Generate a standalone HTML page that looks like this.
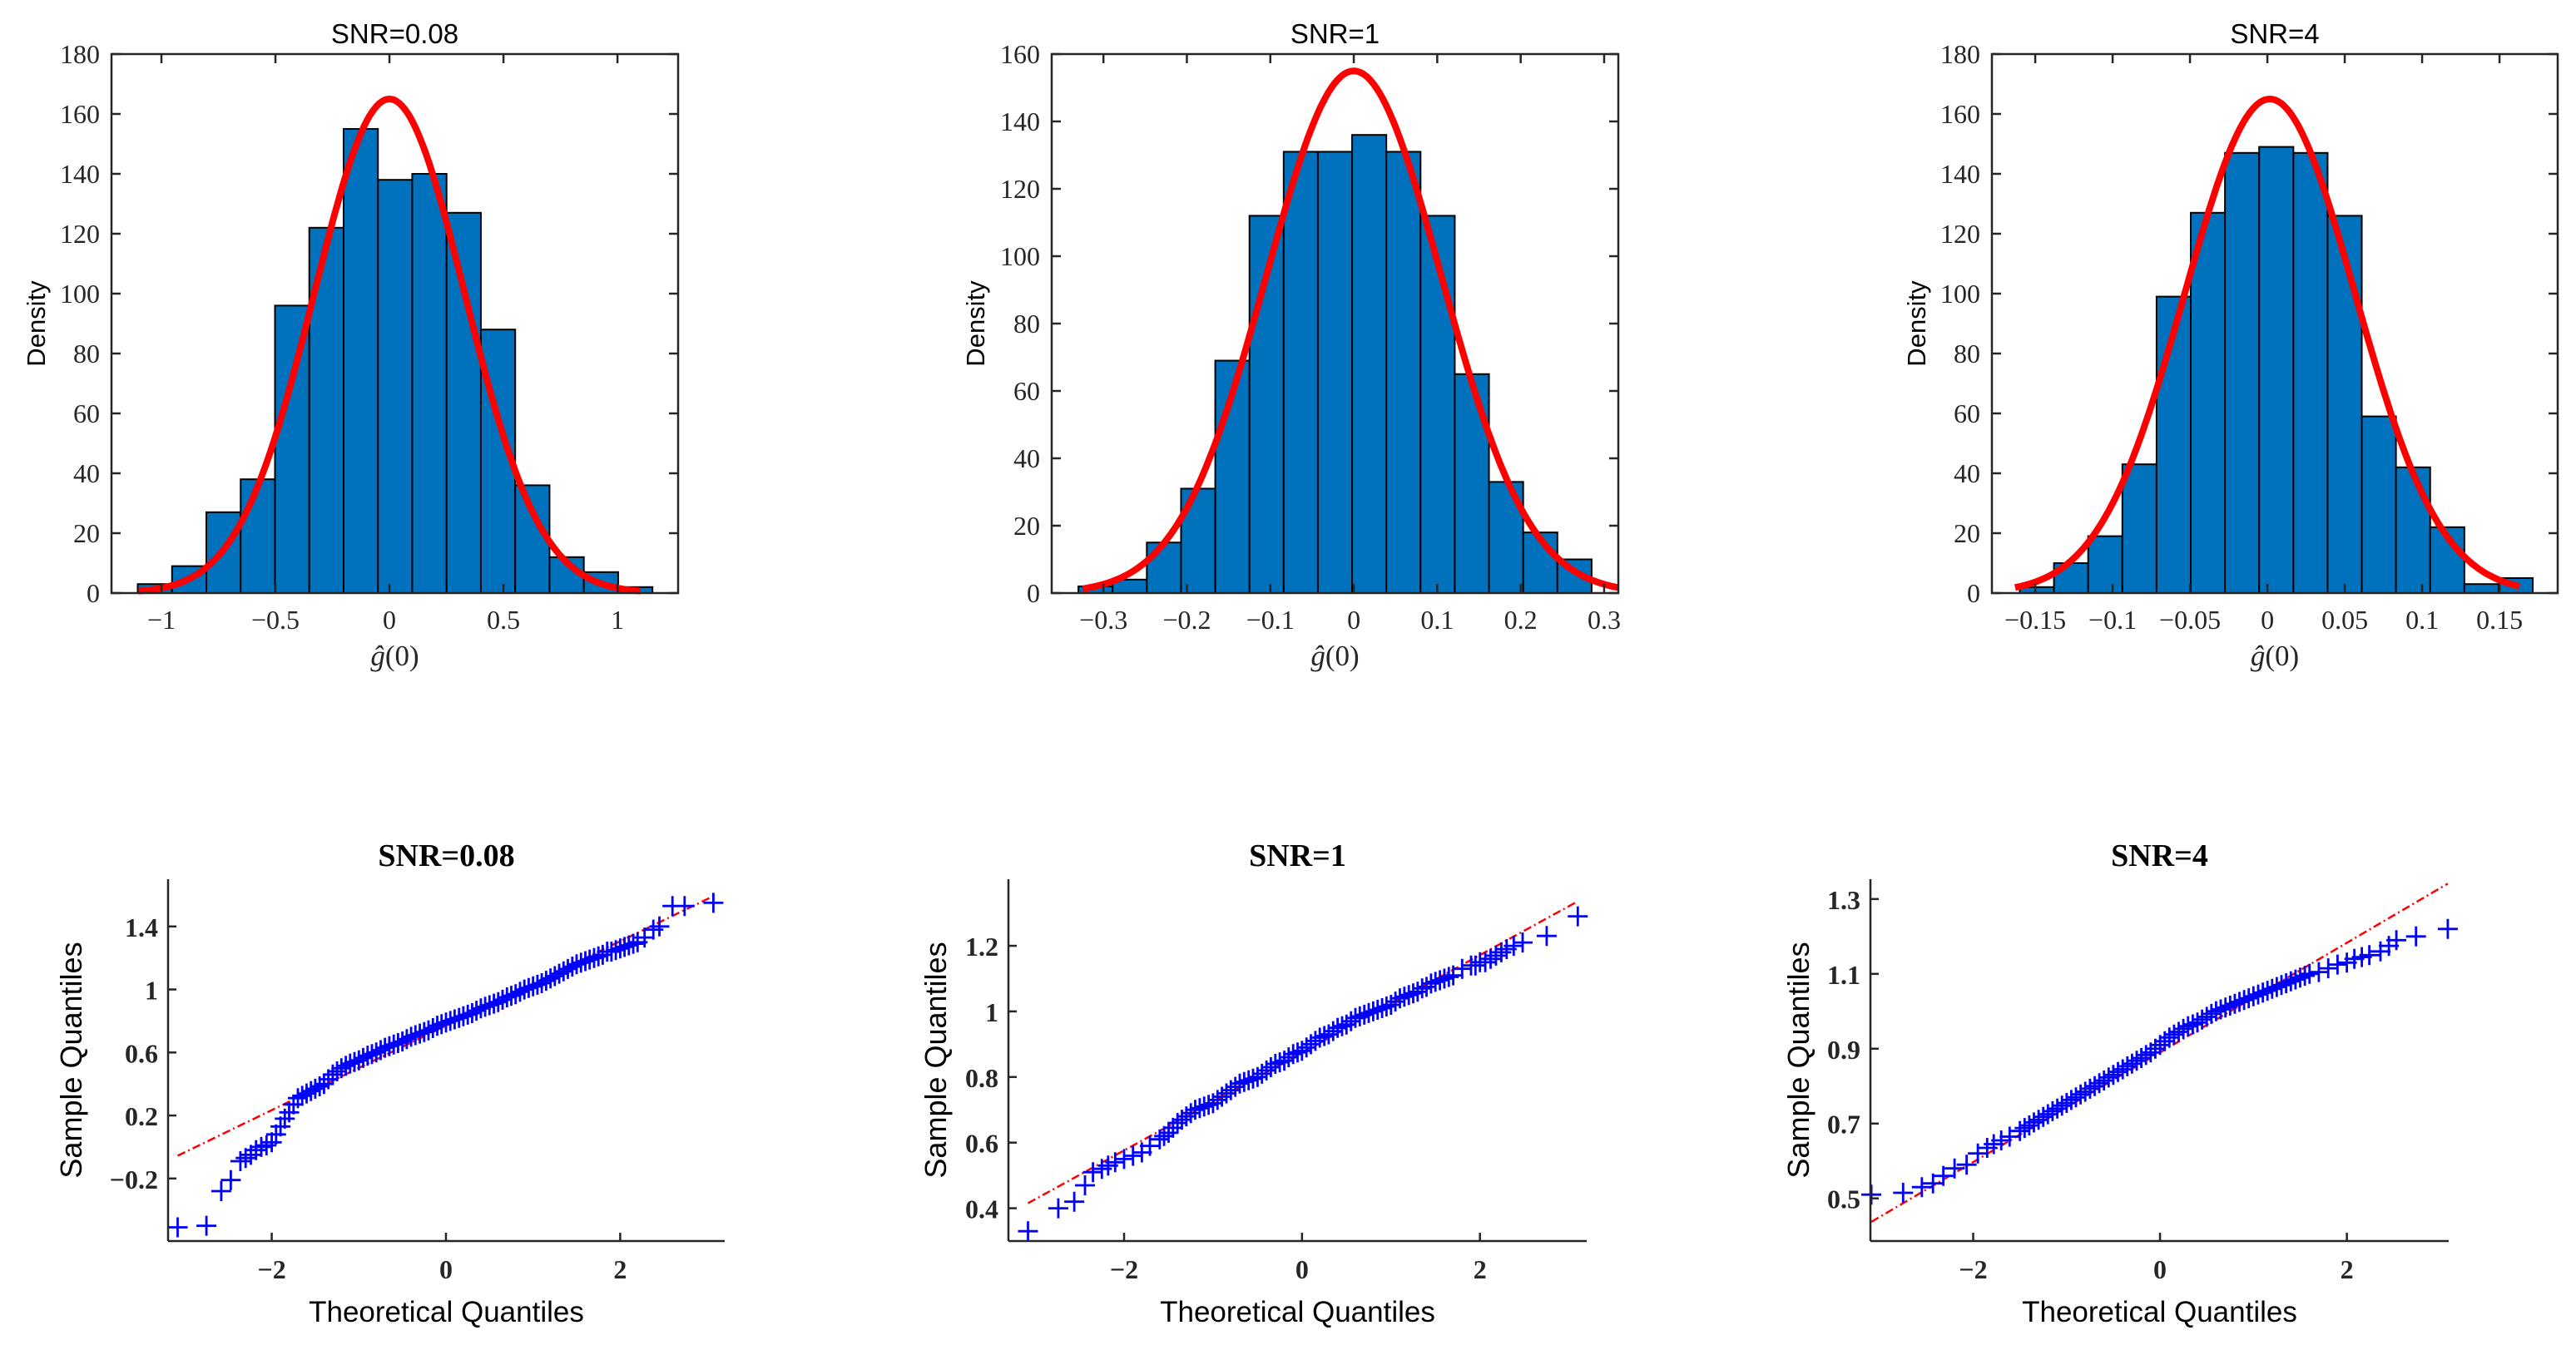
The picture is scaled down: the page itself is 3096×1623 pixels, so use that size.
<!DOCTYPE html>
<html><head><meta charset="utf-8"><title>SNR histograms and QQ plots</title>
<style>
html,body{margin:0;padding:0;background:#fff;}
svg{display:block;}
.tick{font-family:"Liberation Serif",serif;font-size:32px;fill:#262626;}
.sans{font-family:"Liberation Sans",sans-serif;fill:#000;}
</style></head>
<body>
<svg id="fig" xmlns="http://www.w3.org/2000/svg" width="3096" height="1623" viewBox="0 0 3096 1623">
<rect width="3096" height="1623" fill="#fff"/>
</svg>
<script>
// ---- Histogram data ----
const hist1Counts = [3,9,27,38,96,122,155,138,140,127,88,36,12,7,2];
const hist1Start = -1.104, hist1Width = 0.1505;
const hist2Counts = [2,4,15,31,69,112,131,131,136,131,112,65,33,18,10];
const hist2Start = -0.330, hist2Width = 0.041;
const hist3Counts = [2,10,19,43,99,127,147,149,147,126,59,42,22,3,5];
const hist3Start = -0.160, hist3Width = 0.0221;
const fit1 = [0, 0.33, 165], fit2 = [0, 0.105, 155], fit3 = [0.0016, 0.055, 165]; // mean, sigma, peak
const fitRange1 = [-1.1, 1.1], fitRange2 = [-0.325, 0.317], fitRange3 = [-0.163, 0.163];
const hist1XTicks = [-1,-0.5,0,0.5,1];
const hist2XTicks = [-0.3,-0.2,-0.1,0,0.1,0.2,0.3];
const hist3XTicks = [-0.15,-0.1,-0.05,0,0.05,0.1,0.15];
const histYTicks180 = [0,20,40,60,80,100,120,140,160,180];
const histYTicks160 = [0,20,40,60,80,100,120,140,160];
// ---- QQ data ----
const qx1 = [-3.08,-2.75,-2.58,-2.47,-2.36,-2.3,-2.24,-2.18,-2.12,-2.06,-2.0,-1.95,-1.9,-1.85,-1.8,-1.75,
 -1.70,-1.65,-1.60,-1.55,-1.50,-1.45,-1.40,-1.35,-1.30,-1.25,-1.20,-1.15,-1.10,-1.05,-1.00,-0.95,-0.90,-0.85,-0.80,-0.75,-0.70,-0.65,-0.60,-0.55,-0.50,-0.45,-0.40,-0.35,-0.30,-0.25,-0.20,-0.15,-0.10,-0.05,0,
 0.05,0.10,0.15,0.20,0.25,0.30,0.35,0.40,0.45,0.50,0.55,0.60,0.65,0.70,0.75,0.80,0.85,0.90,0.95,1.00,1.05,1.10,1.15,1.20,1.25,1.30,1.35,1.40,1.45,1.50,1.55,1.60,1.65,1.70,1.75,1.80,
 1.85,1.9,1.95,2.0,2.05,2.1,2.15,2.2,2.28,2.38,2.45,2.6,2.74,3.07];
const qy1 = [-0.51,-0.50,-0.28,-0.21,-0.09,-0.07,-0.05,-0.02,0.0,0.01,0.03,0.08,0.13,0.18,0.22,0.27,
 0.31,0.325,0.34,0.355,0.37,0.385,0.40,0.43,0.46,0.48,0.50,0.515,0.53,0.54,0.55,0.565,0.58,0.59,0.60,0.615,0.63,0.64,0.65,0.66,0.67,0.685,0.70,0.71,0.72,0.73,0.74,0.755,0.77,0.78,0.79,
 0.80,0.81,0.82,0.83,0.84,0.85,0.865,0.88,0.89,0.90,0.91,0.92,0.935,0.95,0.96,0.97,0.985,1.0,1.01,1.02,1.03,1.04,1.055,1.07,1.085,1.10,1.115,1.13,1.145,1.16,1.17,1.18,1.19,1.20,1.21,1.22,
 1.24,1.24,1.25,1.26,1.27,1.28,1.29,1.30,1.33,1.38,1.40,1.53,1.53,1.55];
const qx2 = [-3.08,-2.74,-2.56,-2.44,-2.35,-2.25,-2.18,-2.1,-2.0,-1.9,-1.8,-1.71,
 -1.60,-1.55,-1.50,-1.45,-1.40,-1.35,-1.30,-1.25,-1.20,-1.15,-1.10,-1.05,-1.00,-0.95,-0.90,-0.85,-0.80,-0.75,-0.70,-0.65,-0.60,-0.55,-0.50,-0.45,-0.40,-0.35,-0.30,-0.25,-0.20,-0.15,-0.10,-0.05,0,
 0.05,0.10,0.15,0.20,0.25,0.30,0.35,0.40,0.45,0.50,0.55,0.60,0.65,0.70,0.75,0.80,0.85,0.90,0.95,1.00,1.05,1.10,1.15,1.20,1.25,1.30,1.35,1.40,1.45,1.50,1.55,1.60,1.65,1.70,
 1.8,1.9,1.95,2.0,2.06,2.12,2.18,2.24,2.3,2.38,2.48,2.75,3.1];
const qy2 = [0.33,0.40,0.42,0.47,0.51,0.52,0.53,0.54,0.55,0.56,0.57,0.59,
 0.61,0.62,0.63,0.645,0.66,0.67,0.68,0.69,0.70,0.705,0.71,0.715,0.72,0.73,0.74,0.75,0.76,0.77,0.78,0.785,0.79,0.795,0.80,0.81,0.82,0.83,0.84,0.845,0.85,0.86,0.87,0.875,0.88,
 0.89,0.90,0.91,0.92,0.925,0.93,0.94,0.95,0.955,0.96,0.97,0.98,0.985,0.99,0.995,1.0,1.005,1.01,1.015,1.02,1.03,1.04,1.045,1.05,1.055,1.06,1.07,1.075,1.085,1.09,1.095,1.10,1.105,1.11,
 1.13,1.14,1.14,1.15,1.15,1.16,1.17,1.18,1.19,1.2,1.21,1.23,1.29];
const qx3 = [-3.09,-2.75,-2.55,-2.43,-2.32,-2.2,-2.07,-1.95,-1.85,-1.78,-1.7,-1.61,
 -1.50,-1.45,-1.40,-1.35,-1.30,-1.25,-1.20,-1.15,-1.10,-1.05,-1.00,-0.95,-0.90,-0.85,-0.80,-0.75,-0.70,-0.65,-0.60,-0.55,-0.50,-0.45,-0.40,-0.35,-0.30,-0.25,-0.20,-0.15,-0.10,-0.05,0,
 0.05,0.10,0.15,0.20,0.25,0.30,0.35,0.40,0.45,0.50,0.55,0.60,0.65,0.70,0.75,0.80,0.85,0.90,0.95,1.00,1.05,1.10,1.15,1.20,1.25,1.30,1.35,1.40,1.45,1.50,1.55,1.60,
 1.7,1.8,1.9,2.0,2.08,2.16,2.24,2.36,2.45,2.53,2.74,3.08];
const qy3 = [0.51,0.515,0.53,0.54,0.56,0.58,0.59,0.62,0.635,0.645,0.655,0.665,
 0.68,0.688,0.695,0.703,0.71,0.718,0.725,0.733,0.74,0.748,0.755,0.763,0.77,0.778,0.785,0.793,0.80,0.808,0.815,0.823,0.83,0.838,0.845,0.853,0.86,0.868,0.875,0.883,0.89,0.90,0.91,
 0.92,0.93,0.938,0.945,0.953,0.96,0.965,0.97,0.978,0.985,0.993,1.0,1.005,1.01,1.015,1.02,1.025,1.03,1.035,1.04,1.045,1.05,1.055,1.06,1.065,1.07,1.075,1.08,1.085,1.09,1.095,1.10,
 1.105,1.115,1.125,1.13,1.14,1.145,1.15,1.16,1.175,1.19,1.20,1.22];
const refLine1 = [0.77, 0.268], refLine2 = [0.874, 0.1489], refLine3 = [0.89, 0.1465]; // intercept, slope
const qqXTicks = [-2,0,2];
const qq1YTicks = [-0.2,0.2,0.6,1,1.4];
const qq2YTicks = [0.4,0.6,0.8,1,1.2];
const qq3YTicks = [0.5,0.7,0.9,1.1,1.3];

const NS = "http://www.w3.org/2000/svg";
const fig = document.getElementById('fig');
function mk(tag, attrs, parent) {
  const e = document.createElementNS(NS, tag);
  for (const k in attrs) e.setAttribute(k, attrs[k]);
  (parent || fig).appendChild(e);
  return e;
}
function fmt(v) {
  let s = String(Math.round(v * 1000) / 1000);
  if (s[0] === '-') s = '\u2212' + s.slice(1);
  return s;
}
function scale(d0, d1, p0, p1) { return v => p0 + (v - d0) * (p1 - p0) / (d1 - d0); }

function histPanel(o) {
  const g = mk('g', {});
  
  
  const X = scale(o.xd[0], o.xd[1], o.L, o.R);
  const Y = scale(o.yd[0], o.yd[1], o.B, o.T);
  o.counts.forEach((c, i) => {
    const x0 = X(o.start + i * o.width), x1 = X(o.start + (i + 1) * o.width);
    const r = mk('rect', {x: x0, y: Y(c), width: x1 - x0, height: Y(0) - Y(c), fill: '#0072BD', stroke: '#000', 'stroke-width': 2}, g);
    
    
  });
  let d = '';
  const n = 200;
  for (let i = 0; i <= n; i++) {
    const x = o.fr[0] + (o.fr[1] - o.fr[0]) * i / n;
    const y = o.fit[2] * Math.exp(-Math.pow(x - o.fit[0], 2) / (2 * o.fit[1] * o.fit[1]));
    d += (i ? 'L' : 'M') + X(x).toFixed(1) + ',' + Y(y).toFixed(1);
  }
  const cv = mk('path', {d: d, fill: 'none', stroke: '#ff0000', 'stroke-width': 8, 'stroke-linejoin': 'round'}, g);
  
  
  const box = mk('rect', {x: o.L, y: o.T, width: o.R - o.L, height: o.B - o.T, fill: 'none', stroke: '#262626', 'stroke-width': 2.5}, g);
  
  
  o.xt.forEach(t => {
    const x = X(t);
    mk('line', {x1: x, x2: x, y1: o.B, y2: o.B - 11, stroke: '#262626', 'stroke-width': 2.5}, g);
    mk('line', {x1: x, x2: x, y1: o.T, y2: o.T + 11, stroke: '#262626', 'stroke-width': 2.5}, g);
    const tx = mk('text', {x: x, y: o.B + 43, 'text-anchor': 'middle', class: 'tick'}, g);
    tx.textContent = fmt(t);
    
    
  });
  o.yt.forEach(t => {
    const y = Y(t);
    mk('line', {x1: o.L, x2: o.L + 11, y1: y, y2: y, stroke: '#262626', 'stroke-width': 2.5}, g);
    mk('line', {x1: o.R, x2: o.R - 11, y1: y, y2: y, stroke: '#262626', 'stroke-width': 2.5}, g);
    const tx = mk('text', {x: o.L - 14, y: y + 11, 'text-anchor': 'end', class: 'tick'}, g);
    tx.textContent = fmt(t);
    
    
  });
  const cx = (o.L + o.R) / 2;
  const ti = mk('text', {x: cx, y: 52, 'text-anchor': 'middle', class: 'sans', 'font-size': 33}, g);
  ti.textContent = o.title;
  
  
  const yl = mk('text', {x: o.ylx, y: 389, 'text-anchor': 'middle', class: 'sans', 'font-size': 31, transform: 'rotate(-90 ' + o.ylx + ' 389)'}, g);
  yl.textContent = 'Density';
  
  
  const xl = mk('text', {x: cx, y: 800, 'text-anchor': 'middle', 'font-family': '"Liberation Serif",serif', 'font-size': 35, fill: '#262626'}, g);
  xl.innerHTML = '<tspan font-style="italic">ĝ</tspan>(0)';
  
  
}

function qqPanel(o) {
  const g = mk('g', {});
  
  
  const X = scale(o.xd[0], o.xd[1], o.L, o.R);
  const Y = scale(o.yd[0], o.yd[1], o.B, o.T);
  const xa = o.qx[0], xb = o.qx[o.qx.length - 1];
  const rl = mk('line', {x1: X(xa), y1: Y(o.line[0] + o.line[1] * xa), x2: X(xb), y2: Y(o.line[0] + o.line[1] * xb), stroke: '#ff0000', 'stroke-width': 2.5, 'stroke-dasharray': '10,4,2,4'}, g);
  
  
  let d = '';
  o.qx.forEach((x, i) => {
    const px = X(x), py = Y(o.qy[i]);
    d += 'M' + (px - 12).toFixed(1) + ',' + py.toFixed(1) + 'h24M' + px.toFixed(1) + ',' + (py - 12).toFixed(1) + 'v24';
  });
  const pts = mk('path', {d: d, stroke: '#0000ff', 'stroke-width': 2.8, fill: 'none'}, g);
  
  
  mk('line', {x1: o.L, x2: o.L, y1: o.T, y2: o.B, stroke: '#262626', 'stroke-width': 2.5}, g);
  mk('line', {x1: o.L, x2: o.R, y1: o.B, y2: o.B, stroke: '#262626', 'stroke-width': 2.5}, g);
  o.xt.forEach(t => {
    const x = X(t);
    mk('line', {x1: x, x2: x, y1: o.B, y2: o.B - 10, stroke: '#262626', 'stroke-width': 2.5}, g);
    const tx = mk('text', {x: x, y: o.B + 45, 'text-anchor': 'middle', class: 'tick', 'font-weight': 'bold', 'font-size': 34}, g);
    tx.textContent = fmt(t);
    
    
  });
  o.yt.forEach(t => {
    const y = Y(t);
    mk('line', {x1: o.L, x2: o.L + 10, y1: y, y2: y, stroke: '#262626', 'stroke-width': 2.5}, g);
    const tx = mk('text', {x: o.L - 12, y: y + 12, 'text-anchor': 'end', class: 'tick', 'font-weight': 'bold', 'font-size': 34}, g);
    tx.textContent = fmt(t);
    
    
  });
  const cx = (o.L + o.R) / 2;
  const ti = mk('text', {x: cx, y: 1041, 'text-anchor': 'middle', 'font-family': '"Liberation Serif",serif', 'font-weight': 'bold', 'font-size': 38, fill: '#000'}, g);
  ti.textContent = o.title;
  
  
  const ym = (o.T + o.B) / 2;
  const yl = mk('text', {x: o.ylx, y: ym, 'text-anchor': 'middle', class: 'sans', 'font-size': 36, fill: '#262626', transform: 'rotate(-90 ' + o.ylx + ' ' + ym + ')'}, g);
  yl.textContent = 'Sample Quantiles';
  
  
  const xl = mk('text', {x: cx, y: 1589, 'text-anchor': 'middle', class: 'sans', 'font-size': 35, fill: '#262626'}, g);
  xl.textContent = 'Theoretical Quantiles';
  
  
}

histPanel({name: 'histogram-snr-0.08', title: 'SNR=0.08', L: 134, R: 815, T: 65, B: 713, xd: [-1.219, 1.266], yd: [0, 180], counts: hist1Counts, start: hist1Start, width: hist1Width, fit: fit1, fr: fitRange1, xt: hist1XTicks, yt: histYTicks180, ylx: 54});
histPanel({name: 'histogram-snr-1', title: 'SNR=1', L: 1264, R: 1945, T: 65, B: 713, xd: [-0.362, 0.317], yd: [0, 160], counts: hist2Counts, start: hist2Start, width: hist2Width, fit: fit2, fr: fitRange2, xt: hist2XTicks, yt: histYTicks160, ylx: 1183});
histPanel({name: 'histogram-snr-4', title: 'SNR=4', L: 2394, R: 3074, T: 65, B: 713, xd: [-0.178, 0.1876], yd: [0, 180], counts: hist3Counts, start: hist3Start, width: hist3Width, fit: fit3, fr: fitRange3, xt: hist3XTicks, yt: histYTicks180, ylx: 2314});

qqPanel({name: 'qq-plot-snr-0.08', title: 'SNR=0.08', L: 202, R: 871, T: 1057, B: 1492, xd: [-3.19, 3.2], yd: [-0.597, 1.70], qx: qx1, qy: qy1, line: refLine1, xt: qqXTicks, yt: qq1YTicks, ylx: 98});
qqPanel({name: 'qq-plot-snr-1', title: 'SNR=1', L: 1212, R: 1907, T: 1057, B: 1492, xd: [-3.3, 3.2], yd: [0.3, 1.403], qx: qx2, qy: qy2, line: refLine2, xt: qqXTicks, yt: qq2YTicks, ylx: 1137});
qqPanel({name: 'qq-plot-snr-4', title: 'SNR=4', L: 2248, R: 2943, T: 1057, B: 1492, xd: [-3.1, 3.09], yd: [0.386, 1.353], qx: qx3, qy: qy3, line: refLine3, xt: qqXTicks, yt: qq3YTicks, ylx: 2174});
</script>
</body></html>
